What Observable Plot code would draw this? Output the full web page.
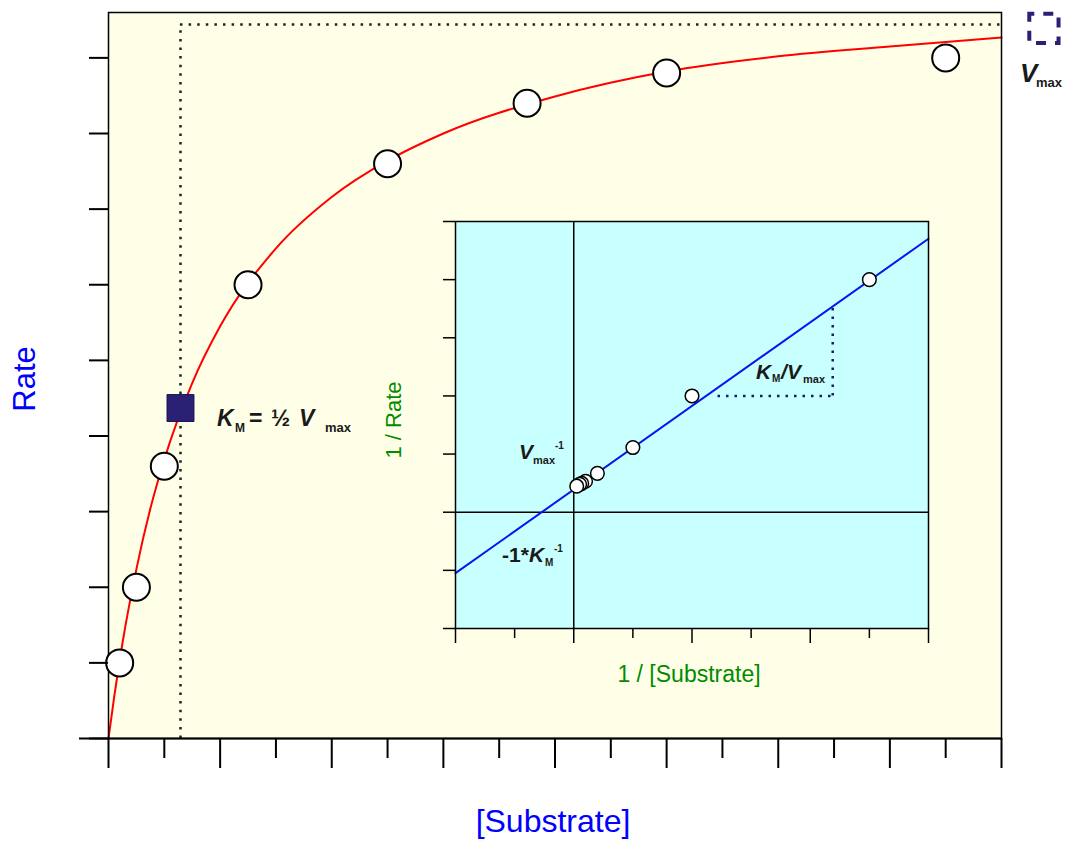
<!DOCTYPE html>
<html>
<head>
<meta charset="utf-8">
<script src="https://cdn.jsdelivr.net/npm/d3@7"></script>
<script src="https://cdn.jsdelivr.net/npm/@observablehq/plot@0.6"></script>
<style>
  html, body { margin: 0; padding: 0; background: #ffffff; }
  #wrap { position: relative; width: 1065px; height: 841px; font-family: "Liberation Sans", Arial, sans-serif; }
  #wrap svg { position: absolute; overflow: visible; }
  #overlay { pointer-events: none; }
</style>
</head>
<body>
<div id="wrap"></div>
<script>
// ---------- data ----------
const substrate = [0.2, 0.5, 1, 2.5, 5, 7.5, 10, 15];
const rate      = [1.0, 2.0, 3.6, 6.0, 7.6, 8.4, 8.8, 9.0];

// fitted Michaelis-Menten curve
const curveS = [0, 0.1, 0.25, 0.5, 0.75, 1, 1.5, 2, 3, 4, 5, 6, 8, 10, 12, 14, 16];
const curveV = [0, 0.54, 1.26, 2.24, 3.04, 3.69, 4.70, 5.45, 6.48, 7.16, 7.64, 8.0, 8.49, 8.82, 9.02, 9.15, 9.27];

const kmX = 1.29;       // K_M position on [Substrate]
const kmMarkY = 4.37;   // filled square marker
const vmaxY = 9.44;     // dotted V_max line
const vmaxMarker = [{x: 16.76, y: 9.39}];

// Lineweaver-Burk inset
const invS    = [5, 2, 1, 0.4, 0.2, 0.135, 0.1, 0.05];
const invRate = [1.0, 0.5, 0.278, 0.167, 0.133, 0.124, 0.12, 0.112];
const lbLineX = [-2, 6];
const lbLineY = [-0.262, 1.176];
const slopeX1 = 2.44, slopeX2 = 4.38, slopeY1 = 0.5, slopeY2 = 0.885;

// tick positions
const mainXMajor = [0, 2, 4, 6, 8, 10, 12, 14, 16];
const mainXMinor = [1, 3, 5, 7, 9, 11, 13, 15];
const mainYTicks = [0, 1, 2, 3, 4, 5, 6, 7, 8, 9];
const insetXMajor = [-2, 0, 2, 4, 6];
const insetXMinor = [-1, 1, 3, 5];
const insetYTicks = [-0.5, -0.25, 0, 0.25, 0.5, 0.75, 1, 1.25];

// ---------- tables ----------
const points = substrate.map((s, i) => ({s, v: rate[i]}));
const curve = curveS.map((s, i) => ({s, v: curveV[i]}));
const lbPoints = invS.map((x, i) => ({x, y: invRate[i]}));
const lbLine = lbLineX.map((x, i) => ({x, y: lbLineY[i]}));

const noText = () => "";
const navy = "#2a2175";

// ---------- main chart ----------
const main = Plot.plot({
  width: 1065, height: 841,
  marginLeft: 108, marginRight: 64, marginTop: 12, marginBottom: 103,
  x: {domain: [0, 16], label: null},
  y: {domain: [0, 9.6], label: null},
  style: {background: "transparent", overflow: "visible"},
  marks: [
    Plot.frame({fill: "#ffffe8", stroke: null}),
    Plot.ruleX([kmX], {y1: 0, y2: vmaxY, stroke: "#222", strokeWidth: 2.5, strokeDasharray: "2.5,6.1"}),
    Plot.ruleY([vmaxY], {x1: kmX, x2: 16, stroke: "#222", strokeWidth: 2.5, strokeDasharray: "2.5,6.1"}),
    Plot.line(curve, {x: "s", y: "v", stroke: "#ff0000", strokeWidth: 2, curve: "monotone-x"}),
    Plot.frame({stroke: "#000", strokeWidth: 1.5}),
    Plot.ruleY([0], {x1: -0.52, x2: 16, stroke: "#000", strokeWidth: 2}),
    Plot.dot(points, {x: "s", y: "v", r: 13.5, fill: "#ffffff", stroke: "#000", strokeWidth: 2}),
    Plot.dot([{x: kmX, y: kmMarkY}], {x: "x", y: "y", symbol: "square", r: 15.2, fill: navy, stroke: "#1a1450", strokeWidth: 1}),
    Plot.dot(vmaxMarker, {x: "x", y: "y", symbol: "square", r: 16.5, fill: "none", stroke: navy, strokeWidth: 4, strokeDasharray: "10,9", strokeDashoffset: 5}),
    Plot.axisX({ticks: mainXMajor, tickSize: 30, tickFormat: noText, strokeWidth: 2, label: null}),
    Plot.axisX({ticks: mainXMinor, tickSize: 20, tickFormat: noText, strokeWidth: 2, label: null}),
    Plot.axisY({ticks: mainYTicks, tickSize: 19, tickFormat: noText, strokeWidth: 2, label: null})
  ]
});
main.style.left = "0px"; main.style.top = "0px";

// ---------- inset (Lineweaver-Burk) ----------
const inset = Plot.plot({
  width: 560, height: 475,
  marginLeft: 75, marginRight: 12, marginTop: 6, marginBottom: 62,
  x: {domain: [-2, 6], label: null},
  y: {domain: [-0.5, 1.25], label: null},
  style: {background: "transparent", overflow: "visible"},
  marks: [
    Plot.frame({fill: "#c8ffff", stroke: null}),
    Plot.ruleX([0], {stroke: "#000", strokeWidth: 1.5}),
    Plot.ruleY([0], {stroke: "#000", strokeWidth: 1.5}),
    Plot.ruleY([slopeY1], {x1: slopeX1, x2: slopeX2, stroke: "#1a1a66", strokeWidth: 2.5, strokeDasharray: "2.5,6"}),
    Plot.ruleX([slopeX2], {y1: slopeY1, y2: slopeY2, stroke: "#1a1a66", strokeWidth: 2.5, strokeDasharray: "2.5,6"}),
    Plot.line(lbLine, {x: "x", y: "y", stroke: "#0a14f0", strokeWidth: 2}),
    Plot.frame({stroke: "#000", strokeWidth: 1.5}),
    Plot.dot(lbPoints, {x: "x", y: "y", r: 6.8, fill: "#ffffff", stroke: "#000", strokeWidth: 1.5}),
    Plot.axisX({ticks: insetXMajor, tickSize: 15, tickFormat: noText, strokeWidth: 1.5, label: null}),
    Plot.axisX({ticks: insetXMinor, tickSize: 10, tickFormat: noText, strokeWidth: 1.5, label: null}),
    Plot.axisY({ticks: insetYTicks, tickSize: 12, tickFormat: noText, strokeWidth: 1.5, label: null})
  ]
});
inset.style.left = "380px"; inset.style.top = "215px";

const wrap = document.getElementById("wrap");
wrap.appendChild(main);
wrap.appendChild(inset);

// ---------- text overlay ----------
const ov = d3.select(wrap).append("svg").attr("id", "overlay")
  .attr("width", 1065).attr("height", 841)
  .style("left", "0px").style("top", "0px")
  .attr("font-family", '"Liberation Sans", Arial, sans-serif');

ov.append("text").attr("transform", "translate(35,379) rotate(-90)")
  .attr("text-anchor", "middle").attr("font-size", 31).attr("fill", "#0000ff").text("Rate");
ov.append("text").attr("x", 553).attr("y", 832)
  .attr("text-anchor", "middle").attr("font-size", 32).attr("fill", "#0000ff").text("[Substrate]");
ov.append("text").attr("transform", "translate(401,420) rotate(-90)")
  .attr("text-anchor", "middle").attr("font-size", 22).attr("fill", "#008c00").text("1 / Rate");
ov.append("text").attr("x", 689).attr("y", 682)
  .attr("text-anchor", "middle").attr("font-size", 23).attr("fill", "#008c00").text("1 / [Substrate]");

function rich(parts) {
  const t = ov.append("text").attr("fill", "#1a1a1a").attr("font-weight", "bold");
  for (const p of parts) {
    t.append("tspan").attr("x", p.x).attr("y", p.y).attr("font-size", p.size)
      .attr("font-style", p.italic ? "italic" : "normal").text(p.t);
  }
}
// K_M = 1/2 V_max
rich([
  {t: "K", x: 217, y: 426, size: 23, italic: true},
  {t: "M", x: 235, y: 432, size: 12},
  {t: "=", x: 249, y: 426, size: 23},
  {t: "½", x: 271, y: 426, size: 23},
  {t: "V", x: 299, y: 426, size: 23, italic: true},
  {t: "max", x: 325, y: 432, size: 13}
]);
// V_max marker label
rich([
  {t: "V", x: 1020, y: 82, size: 26, italic: true},
  {t: "max", x: 1036, y: 87, size: 13}
]);
// V_max^-1
rich([
  {t: "V", x: 519, y: 459, size: 21, italic: true},
  {t: "max", x: 533, y: 464, size: 11},
  {t: "-1", x: 555, y: 449, size: 10}
]);
// -1*K_M^-1
rich([
  {t: "-1*", x: 502, y: 562, size: 21},
  {t: "K", x: 529, y: 562, size: 21, italic: true},
  {t: "M", x: 545, y: 566, size: 10},
  {t: "-1", x: 554, y: 552, size: 10}
]);
// K_M / V_max
rich([
  {t: "K", x: 756, y: 379, size: 21, italic: true},
  {t: "M", x: 772, y: 382, size: 10},
  {t: "/", x: 781, y: 379, size: 21, italic: true},
  {t: "V", x: 787, y: 379, size: 21, italic: true},
  {t: "max", x: 803, y: 383, size: 11}
]);
</script>
</body>
</html>
